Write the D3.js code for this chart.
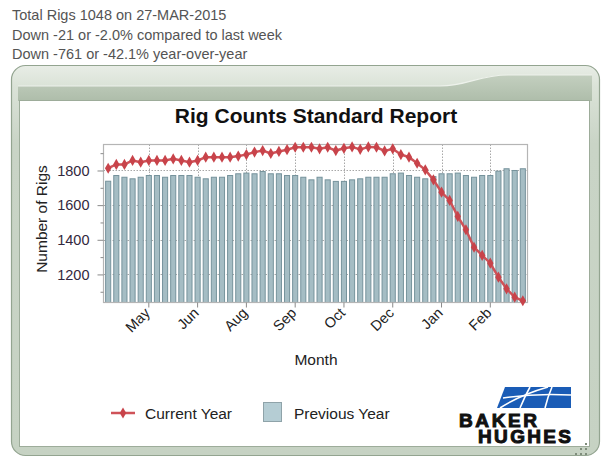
<!DOCTYPE html>
<html><head><meta charset="utf-8">
<script src="https://cdn.jsdelivr.net/npm/d3@7"></script>
<style>
html,body{margin:0;padding:0;background:#fff;}
svg{display:block;font-family:Arial,"Liberation Sans",sans-serif;}
</style></head>
<body><div id="chart"></div>
<script>
const headerLines = ["Total Rigs 1048 on 27-MAR-2015","Down -21 or -2.0% compared to last week","Down -761 or -42.1% year-over-year"];
const weeks = ["2014-04-04","2014-04-11","2014-04-18","2014-04-25","2014-05-02","2014-05-09","2014-05-16","2014-05-23","2014-05-30",
"2014-06-06","2014-06-13","2014-06-20","2014-06-27","2014-07-04","2014-07-11","2014-07-18","2014-07-25",
"2014-08-01","2014-08-08","2014-08-15","2014-08-22","2014-08-29","2014-09-05","2014-09-12","2014-09-19","2014-09-26",
"2014-10-03","2014-10-10","2014-10-17","2014-10-24","2014-10-31","2014-11-07","2014-11-14","2014-11-21","2014-11-28",
"2014-12-05","2014-12-12","2014-12-19","2014-12-26","2015-01-02","2015-01-09","2015-01-16","2015-01-23","2015-01-30",
"2015-02-06","2015-02-13","2015-02-20","2015-02-27","2015-03-06","2015-03-13","2015-03-20","2015-03-27"];
const currentYear = [1813,1835,1835,1858,1848,1858,1858,1858,1867,1858,1848,1858,1877,1877,1877,1877,1883,1892,1906,1915,1898,1910,1920,1934,1934,1934,
1925,1934,1915,1928,1936,1922,1936,1934,1913,1925,1892,1877,1842,1804,1746,1675,1627,1535,1458,1357,1310,1265,1184,1117,1069,1048];
const previousYear = [1738,1771,1761,1752,1761,1771,1771,1761,1771,1771,1771,1761,1752,1761,1761,1771,1781,1785,1781,1794,1781,1781,1771,1771,1761,1746,
1761,1746,1737,1737,1746,1752,1761,1761,1761,1781,1785,1771,1761,1752,1765,1781,1781,1785,1771,1761,1771,1771,1796,1810,1800,1810];
const monthTicks = ["2014-05-09","2014-06-20","2014-08-01","2014-09-12","2014-10-24","2014-12-05","2015-01-16","2015-02-27"];
const monthLabels = ["May","Jun","Aug","Sep","Oct","Dec","Jan","Feb"];
const yTicks = [1200,1400,1600,1800];
const yMinorTicks = [1100,1300,1500,1700,1900];
const seriesNames = ["Current Year","Previous Year"];
const titleText = "Rig Counts Standard Report";

const W = 616, H = 474;
const svg = d3.select("#chart").append("svg").attr("width", W).attr("height", H);
const defs = svg.append("defs");
const g1 = defs.append("linearGradient").attr("id","frameG").attr("x1",0).attr("y1",0).attr("x2",0).attr("y2",1);
g1.append("stop").attr("offset","0").attr("stop-color","#e8ede6");
g1.append("stop").attr("offset","0.05").attr("stop-color","#dbe3d8");
g1.append("stop").attr("offset","0.2").attr("stop-color","#c9d4c6");
g1.append("stop").attr("offset","1").attr("stop-color","#c6d2c3");
const g2 = defs.append("linearGradient").attr("id","hdrG").attr("x1",0).attr("y1",0).attr("x2",0).attr("y2",1);
g2.append("stop").attr("offset","0").attr("stop-color","#c3cfbf");
g2.append("stop").attr("offset","1").attr("stop-color","#aebdaa");

// header text
svg.append("g").selectAll("text").data(headerLines).join("text")
  .attr("x", 12).attr("y", (d,i)=>20 + i*19.5)
  .attr("font-size", "14.5px").attr("fill", "#545454").text(d=>d);

// frame
svg.append("rect").attr("x",11.5).attr("y",65.5).attr("width",588).attr("height",390).attr("rx",14)
  .attr("fill","url(#frameG)").attr("stroke","#93a490").attr("stroke-width",1.2);
svg.append("path")
  .attr("d","M18,101 L18,86 L440,86 C468,86 478,75 508,75 L592,75 L592,101 Z")
  .attr("fill","url(#hdrG)");
svg.append("path")
  .attr("d","M18,86 L440,86 C468,86 478,75 508,75 L592,75")
  .attr("fill","none").attr("stroke","#eef2ec").attr("stroke-width",1.2);
svg.append("rect").attr("x",19.5).attr("y",100.5).attr("width",570).attr("height",346)
  .attr("fill","#fff").attr("stroke","#9dac9a");
const grip = [[585,443],[585,448],[580,448],[585,453],[580,453],[575,453]];
svg.append("g").selectAll("rect").data(grip).join("rect")
  .attr("x",d=>d[0]).attr("y",d=>d[1]).attr("width",2).attr("height",2).attr("fill","#7f8d7c");

// title
svg.append("text").attr("x", 316).attr("y", 123).attr("text-anchor","middle")
  .attr("font-size","21px").attr("font-weight","bold").attr("fill","#111").text(titleText);

// scales
const plot = {l:103.5, r:527.5, t:144.5, b:302.5};
const x = d3.scaleBand().domain(weeks).range([plot.l, plot.r]).paddingInner(0.25).paddingOuter(0.2);
const y = d3.scaleLinear().domain([1038, 1950]).range([plot.b, plot.t]);
const cx = d => x(d) + x.bandwidth()/2;

svg.append("rect").attr("x",plot.l).attr("y",plot.t).attr("width",plot.r-plot.l).attr("height",plot.b-plot.t)
  .attr("fill","#fff");
const grid = svg.append("g").attr("stroke","#a8a8a8").attr("stroke-width",1).attr("stroke-dasharray","1.5,1.5");
grid.selectAll("line.h").data(yTicks).join("line").attr("class","h")
  .attr("x1",plot.l).attr("x2",plot.r).attr("y1",d=>Math.round(y(d))+0.5).attr("y2",d=>Math.round(y(d))+0.5);
grid.selectAll("line.v").data(monthTicks).join("line").attr("class","v")
  .attr("y1",plot.t).attr("y2",plot.b).attr("x1",d=>Math.round(cx(d))+0.5).attr("x2",d=>Math.round(cx(d))+0.5);

// bars
svg.append("g").selectAll("rect").data(weeks).join("rect")
  .attr("x", d=>x(d)+0.5).attr("width", x.bandwidth()-1)
  .attr("y", (d,i)=>y(previousYear[i])).attr("height",(d,i)=>plot.b - y(previousYear[i]))
  .attr("fill","#a5bdc4").attr("stroke","#76939c").attr("stroke-width",1);

svg.append("rect").attr("x",plot.l).attr("y",plot.t).attr("width",plot.r-plot.l).attr("height",plot.b-plot.t)
  .attr("fill","none").attr("stroke","#b5b5b5").attr("stroke-width",1.2);

// line
const line = d3.line().x((d,i)=>cx(weeks[i])).y(d=>y(d));
svg.append("path").datum(currentYear).attr("d",line).attr("fill","none")
  .attr("stroke","#cf5258").attr("stroke-width",2.5);
const diamond = d3.symbol().type(d3.symbolDiamond).size(36);
svg.append("g").selectAll("path").data(currentYear).join("path")
  .attr("transform",(d,i)=>`translate(${cx(weeks[i])},${y(d)})`).attr("d",diamond)
  .attr("fill","#c8434a");

// y axis
const yAxis = svg.append("g").attr("transform",`translate(${plot.l},0)`)
  .call(d3.axisLeft(y).tickValues(yTicks).tickSize(6).tickPadding(8).tickFormat(d3.format("d")));
yAxis.select(".domain").remove();
yAxis.selectAll(".tick line").attr("stroke","#8a8a8a");
yAxis.selectAll(".tick text").attr("font-size","14.5px").attr("fill","#33283d").attr("font-family","Arial,'Liberation Sans',sans-serif");
const yMinor = svg.append("g").attr("transform",`translate(${plot.l},0)`)
  .call(d3.axisLeft(y).tickValues(yMinorTicks).tickSize(3).tickFormat(""));
yMinor.select(".domain").remove();
yMinor.selectAll(".tick line").attr("stroke","#8a8a8a");

// x axis
const xAxis = svg.append("g").attr("transform",`translate(0,${plot.b})`)
  .call(d3.axisBottom(x).tickValues(monthTicks).tickSize(5).tickFormat((d,i)=>monthLabels[i]));
xAxis.select(".domain").remove();
xAxis.selectAll(".tick line").attr("stroke","#8a8a8a");
xAxis.selectAll(".tick text").attr("font-size","14.5px").attr("fill","#222")
  .attr("font-family","Arial,'Liberation Sans',sans-serif")
  .attr("text-anchor","end").attr("transform","rotate(-45)").attr("dx","-6.5px").attr("dy","1.5px");

// axis titles
svg.append("text").attr("transform","translate(47,219) rotate(-90)").attr("text-anchor","middle")
  .attr("font-size","15.5px").attr("fill","#222").text("Number of Rigs");
svg.append("text").attr("x",316).attr("y",365).attr("text-anchor","middle")
  .attr("font-size","15.5px").attr("fill","#222").text("Month");

// legend
const lg = svg.append("g");
lg.append("line").attr("x1",111).attr("x2",135).attr("y1",413).attr("y2",413).attr("stroke","#cf5258").attr("stroke-width",2.5);
lg.append("path").attr("transform","translate(123,413)").attr("d",diamond).attr("fill","#c8434a");
lg.append("text").attr("x",145).attr("y",418.5).attr("font-size","15.5px").attr("fill","#222").text(seriesNames[0]);
lg.append("rect").attr("x",263.5).attr("y",402.5).attr("width",18).attr("height",19).attr("fill","#b5cdd4").attr("stroke","#8fa3a9");
lg.append("text").attr("x",294).attr("y",418.5).attr("font-size","15.5px").attr("fill","#222").text(seriesNames[1]);

// logo
const logo = svg.append("g");
logo.append("path").attr("d","M505,387 L571,387 L571,408 L497,408 Z").attr("fill","#1a5cb6");
logo.append("path").attr("d","M500,408 Q520,395 548,387").attr("stroke","#fff").attr("stroke-width",1.6).attr("fill","none");
logo.append("path").attr("d","M520,408 Q525,396 530,387").attr("stroke","#fff").attr("stroke-width",1.6).attr("fill","none");
logo.append("path").attr("d","M545,408 Q548,396 552,387").attr("stroke","#fff").attr("stroke-width",1.6).attr("fill","none");
logo.append("path").attr("d","M503,398 Q535,393 571,395").attr("stroke","#fff").attr("stroke-width",1.4).attr("fill","none");
const logoText = logo.append("text").attr("font-size","19px").attr("font-weight","900")
  .attr("fill","#111").attr("stroke","#111").attr("stroke-width",1);
logoText.append("tspan").attr("x",459).attr("y",427).attr("textLength",78).text("BAKER");
logoText.append("tspan").attr("x",478).attr("y",443).attr("textLength",93).text("HUGHES");
</script></body></html>
